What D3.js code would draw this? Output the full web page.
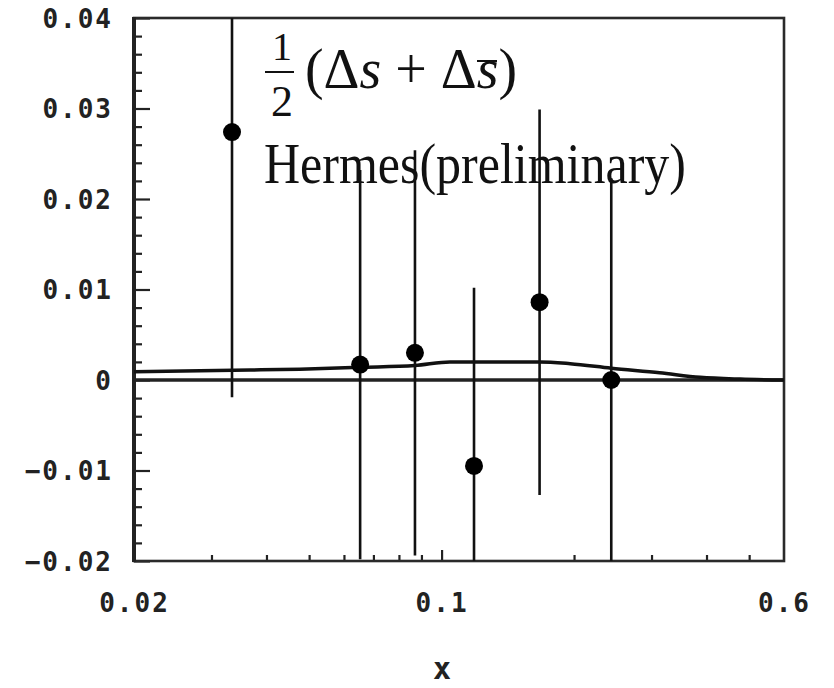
<!DOCTYPE html>
<html>
<head>
<meta charset="utf-8">
<script src="https://cdn.jsdelivr.net/npm/d3@7"></script>
<style>
  body { margin: 0; background: #fff; }
  svg { display: block; }
  .tick-label { font-family: "DejaVu Sans Mono", monospace; font-weight: bold; font-size: 26px; fill: #222; letter-spacing: 2px; }
  .note { font-family: "Liberation Serif", "Times New Roman", serif; fill: #111; }
</style>
</head>
<body>
<svg id="chart"></svg>
<script>
// data points
const xPoints = [0.0334, 0.0653, 0.087, 0.1185, 0.167, 0.243];
const yPoints = [0.0274, 0.0017, 0.0030, -0.0095, 0.0086, 0.0000];
const yErrors = [0.0293, 0.0215, 0.0224, 0.0197, 0.0213, 0.0223];

// model curve
const curveX = [0.02, 0.0367, 0.0476, 0.0653, 0.087, 0.1045, 0.167, 0.196, 0.243, 0.313, 0.387, 0.477, 0.6];
const curveY = [0.0009, 0.0011, 0.0012, 0.0014, 0.0016, 0.0020, 0.0020, 0.0018, 0.0013, 0.0008, 0.0003, 0.0001, 0.0];

// ticks
const xLabelTicks = [0.02, 0.1, 0.6];
const xMinorTicks = [0.03, 0.04, 0.05, 0.06, 0.07, 0.08, 0.09, 0.2, 0.3, 0.4, 0.5];
const xMidTicks = [0.1];
const yMajorTicks = [-0.02, -0.01, 0, 0.01, 0.02, 0.03, 0.04];
const yLabels = ["\u22120.02", "\u22120.01", "0", "0.01", "0.02", "0.03", "0.04"];

const width = 834, height = 688;
const m = { left: 134, right: 784, top: 18, bottom: 561 };

const svg = d3.select("#chart").attr("width", width).attr("height", height);

const x = d3.scaleLog().domain([0.02, 0.6]).range([m.left, m.right]);
const y = d3.scaleLinear().domain([-0.02, 0.04]).range([m.bottom, m.top]);

const yMinorTicks = d3.range(-20, 41, 2)
    .filter(d => d % 10 !== 0)
    .map(d => d / 1000);

svg.append("clipPath").attr("id", "plot-clip")
  .append("rect")
    .attr("x", m.left).attr("y", m.top)
    .attr("width", m.right - m.left).attr("height", m.bottom - m.top);

// x axis ticks (inward)
svg.append("g")
    .attr("transform", `translate(0,${m.bottom})`)
    .call(d3.axisBottom(x).tickValues(xMinorTicks).tickSize(-6).tickSizeOuter(0).tickFormat(""))
    .call(g => g.select(".domain").remove());

svg.append("g")
    .attr("transform", `translate(0,${m.bottom})`)
    .call(d3.axisBottom(x).tickValues(xMidTicks).tickSize(-11).tickSizeOuter(0).tickFormat(""))
    .call(g => g.select(".domain").remove());

svg.append("g")
    .attr("transform", `translate(0,${m.bottom})`)
    .call(d3.axisBottom(x).tickValues(xLabelTicks).tickSize(0).tickPadding(33).tickSizeOuter(0)
        .tickFormat(d => String(d)))
    .call(g => g.select(".domain").remove())
    .call(g => g.selectAll("text").attr("class", "tick-label"));

// y axis ticks
svg.append("g")
    .attr("transform", `translate(${m.left},0)`)
    .call(d3.axisLeft(y).tickValues(yMinorTicks).tickSize(-8).tickSizeOuter(0).tickFormat(""))
    .call(g => g.select(".domain").remove());

svg.append("g")
    .attr("transform", `translate(${m.left},0)`)
    .call(d3.axisLeft(y).tickValues(yMajorTicks).tickSize(-16).tickPadding(21).tickSizeOuter(0)
        .tickFormat((d, i) => yLabels[i]))
    .call(g => g.select(".domain").remove())
    .call(g => g.selectAll("text").attr("class", "tick-label").attr("dy", "0.36em"));

svg.selectAll(".tick line").attr("stroke", "#222").attr("stroke-width", 2.2);

// frame
svg.append("rect")
    .attr("x", m.left).attr("y", m.top)
    .attr("width", m.right - m.left).attr("height", m.bottom - m.top)
    .attr("fill", "none").attr("stroke", "#2a2a2a").attr("stroke-width", 2.6);
svg.append("line")
    .attr("x1", m.left).attr("x2", m.left).attr("y1", m.top - 1).attr("y2", m.bottom + 1)
    .attr("stroke", "#222").attr("stroke-width", 4);

const plot = svg.append("g").attr("clip-path", "url(#plot-clip)");

// zero line
plot.append("line")
    .attr("x1", m.left).attr("x2", m.right)
    .attr("y1", y(0)).attr("y2", y(0))
    .attr("stroke", "#222").attr("stroke-width", 3.5);

// model curve
const line = d3.line()
    .x((d, i) => x(curveX[i]))
    .y(d => y(d))
    .curve(d3.curveMonotoneX);

plot.append("path")
    .datum(curveY)
    .attr("d", line)
    .attr("fill", "none")
    .attr("stroke", "#111")
    .attr("stroke-width", 3.5);

// error bars
const points = xPoints.map((d, i) => ({ x: d, y: yPoints[i], e: yErrors[i] }));

plot.selectAll(".err")
    .data(points)
    .join("line")
    .attr("class", "err")
    .attr("x1", d => x(d.x)).attr("x2", d => x(d.x))
    .attr("y1", d => y(d.y + d.e)).attr("y2", d => y(d.y - d.e))
    .attr("stroke", "#111").attr("stroke-width", 2.6);

plot.selectAll(".dot")
    .data(points)
    .join("circle")
    .attr("class", "dot")
    .attr("cx", d => x(d.x)).attr("cy", d => y(d.y))
    .attr("r", 9)
    .attr("fill", "#000");

// x axis title
svg.append("text")
    .attr("class", "tick-label")
    .attr("x", 442).attr("y", 679)
    .attr("text-anchor", "middle")
    .style("font-size", "30px")
    .style("letter-spacing", "0px")
    .text("x");

// annotation: 1/2 (Δs + Δs̄)
const note = svg.append("g").attr("class", "note");
note.append("text").attr("x", 282).attr("y", 60).attr("text-anchor", "middle")
    .style("font-size", "40px").text("1");
note.append("line").attr("x1", 265).attr("x2", 294).attr("y1", 72).attr("y2", 72)
    .attr("stroke", "#111").attr("stroke-width", 2);
note.append("text").attr("x", 282).attr("y", 116).attr("text-anchor", "middle")
    .style("font-size", "44px").text("2");

const expr = note.append("text").attr("x", 305).attr("y", 88)
    .style("font-size", "56px")
    .attr("textLength", 212).attr("lengthAdjust", "spacingAndGlyphs");
expr.append("tspan").text("(\u0394");
expr.append("tspan").style("font-style", "italic").text("s");
expr.append("tspan").text(" + \u0394");
expr.append("tspan").style("font-style", "italic").text("s");
expr.append("tspan").text(")");
note.append("line").attr("x1", 477).attr("x2", 497).attr("y1", 61).attr("y2", 61)
    .attr("stroke", "#111").attr("stroke-width", 2);

note.append("text").attr("x", 264).attr("y", 183)
    .style("font-size", "56px")
    .attr("textLength", 422).attr("lengthAdjust", "spacingAndGlyphs")
    .text("Hermes(preliminary)");
</script>
</body>
</html>
